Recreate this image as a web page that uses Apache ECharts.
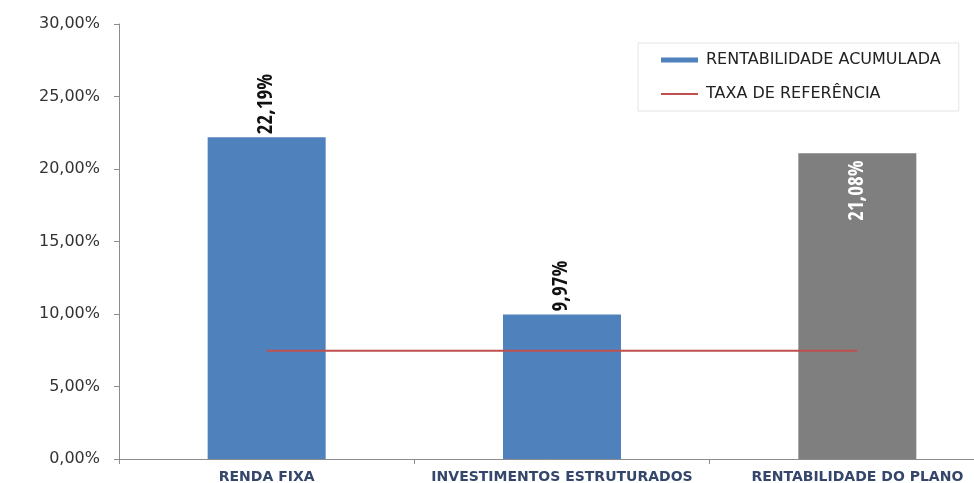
<!DOCTYPE html>
<html>
<head>
<meta charset="utf-8">
<script src="https://cdn.jsdelivr.net/npm/echarts@6/dist/echarts.min.js"></script>
<style>
html,body{margin:0;padding:0;background:#fff;}
#chart{width:974px;height:483px;}
</style>
</head>
<body>
<div id="chart"></div>
<script>
const categories = ['RENDA FIXA', 'INVESTIMENTOS ESTRUTURADOS', 'RENTABILIDADE DO PLANO'];
const rentabilidade = [22.19, 9.97, 21.08];
const taxaReferencia = [7.47, 7.47, 7.47];
const valueLabels = ['22,19%', '9,97%', '21,08%'];
const yTicks = ['0,00%', '5,00%', '10,00%', '15,00%', '20,00%', '25,00%', '30,00%'];
const seriesNames = ['RENTABILIDADE ACUMULADA', 'TAXA DE REFERÊNCIA'];

const BLUE = '#4f81bd', GRAY = '#7f7f7f', RED = '#c0504d';
const labelFont = '"Open Sans Condensed", "Roboto Condensed", sans-serif';

const barData = rentabilidade.map((v, i) => {
  const isPlan = i === 2;
  return {
    value: v,
    itemStyle: { color: isPlan ? GRAY : BLUE },
    label: isPlan ? {
      position: 'insideTop', rotate: 90, align: 'right', verticalAlign: 'middle',
      distance: 7, color: '#fff'
    } : {
      position: 'top', rotate: 90, align: 'left', verticalAlign: 'middle',
      distance: 3, color: '#111'
    }
  };
});

const chart = echarts.init(document.getElementById('chart'));
chart.setOption({
  animation: false,
  backgroundColor: '#fff',
  grid: { left: 119, top: 24, bottom: 24, width: 886, containLabel: false, outerBoundsMode: 'none' },
  legend: {
    orient: 'vertical',
    left: 638, top: 43,
    padding: [9, 18, 9, 22],
    itemGap: 18,
    itemWidth: 37, itemHeight: 5,
    borderColor: '#e4e4e4', borderWidth: 1,
    backgroundColor: '#fff',
    textStyle: { fontFamily: 'DejaVu Sans', fontSize: 16, color: '#222', padding: [0, 0, 0, 3] },
    data: [{ name: seriesNames[0], icon: 'rect' }, { name: seriesNames[1], itemStyle: { opacity: 0 } }]
  },
  xAxis: {
    type: 'category',
    data: categories,
    axisLine: { lineStyle: { color: '#8c8c8c', width: 1 } },
    axisTick: { show: true, length: 5, lineStyle: { color: '#8c8c8c' } },
    axisLabel: { interval: 0, margin: 11, fontFamily: 'DejaVu Sans', fontWeight: 'bold', fontSize: 14, color: '#35466b' },
    splitLine: { show: false }
  },
  yAxis: {
    type: 'value', min: 0, max: 30, interval: 5,
    axisLine: { show: true, lineStyle: { color: '#8c8c8c', width: 1 } },
    axisTick: { show: true, length: 5, lineStyle: { color: '#8c8c8c' } },
    axisLabel: {
      margin: 19, fontFamily: 'DejaVu Sans', fontSize: 16, color: '#333',
      formatter: (v) => yTicks[Math.round(v / 5)]
    },
    splitLine: { show: false }
  },
  series: [
    {
      name: seriesNames[0], type: 'bar', barWidth: 118,
      data: barData,
      itemStyle: { color: BLUE },
      label: {
        show: true, fontFamily: labelFont, fontWeight: 'bold', fontSize: 21,
        formatter: (p) => valueLabels[p.dataIndex]
      }
    },
    {
      name: seriesNames[1], type: 'line', data: taxaReferencia,
      symbol: 'none', color: RED,
      lineStyle: { color: RED, width: 2 }
    }
  ]
});
</script>
</body>
</html>
